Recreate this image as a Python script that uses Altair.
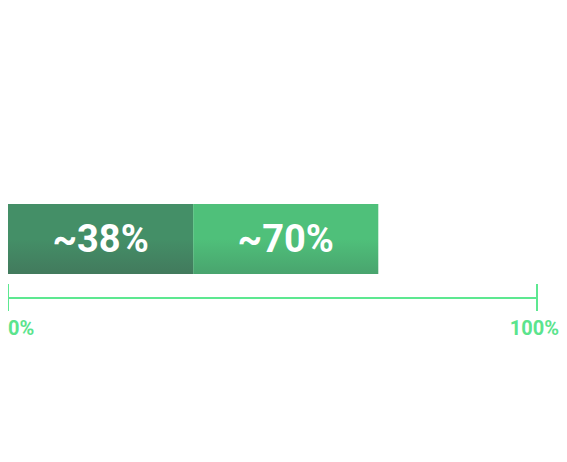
import altair as alt
import pandas as pd

# Segment data
seg_labels = ["~38%", "~70%"]
seg_start = [0, 35]
seg_end = [35, 70]
seg_key = ["dark", "light"]

# Scale/axis data
tick_values = [0, 100]
tick_labels = ["0%", "100%"]

segs = pd.DataFrame({"label": seg_labels, "start": seg_start, "end": seg_end, "key": seg_key})
segs["mid"] = (segs["start"] + segs["end"]) / 2
ticks = pd.DataFrame({"v": tick_values, "lab": tick_labels})
axis_line = pd.DataFrame({"a": [tick_values[0]], "b": [tick_values[-1]]})

xs = alt.Scale(domain=[0, 100], nice=False, zero=False)

def grad(top, bottom):
    return alt.LinearGradient(
        gradient="linear", x1=0, y1=0, x2=0, y2=1,
        stops=[alt.GradientStop(offset=0, color=top),
               alt.GradientStop(offset=0.5, color=top),
               alt.GradientStop(offset=1, color=bottom)])

base = alt.Chart(segs)

dark = base.transform_filter(alt.datum.key == "dark").mark_bar(
    color=grad("#448f67", "#427a5d"), cornerRadius=0
).encode(
    x=alt.X("start:Q", scale=xs, axis=None),
    x2="end:Q",
    y=alt.value(196), y2=alt.value(266),
)
light = base.transform_filter(alt.datum.key == "light").mark_bar(
    color=grad("#4fc07a", "#49a46e"), cornerRadius=0
).encode(
    x=alt.X("start:Q", scale=xs, axis=None),
    x2="end:Q",
    y=alt.value(196), y2=alt.value(266),
)
seg_text = base.mark_text(
    color="white", font="Roboto", fontWeight="bold", fontSize=38,
    baseline="middle", align="center"
).encode(
    x=alt.X("mid:Q", scale=xs, axis=None),
    y=alt.value(233),
    text="label:N",
)

green = "#5de891"
hline = alt.Chart(axis_line).mark_rule(color=green, strokeWidth=2).encode(
    x=alt.X("a:Q", scale=xs, axis=None), x2="b:Q", y=alt.value(290)
)
vticks = alt.Chart(ticks).mark_rule(color=green, strokeWidth=2).encode(
    x=alt.X("v:Q", scale=xs, axis=None), y=alt.value(276), y2=alt.value(303)
)
lab0 = alt.Chart(ticks).transform_filter(alt.datum.v == 0).mark_text(
    color="#5be48d", font="Roboto", fontWeight="bold", fontSize=20,
    align="left", baseline="top"
).encode(x=alt.X("v:Q", scale=xs, axis=None), y=alt.value(311), text="lab:N")
lab100 = alt.Chart(ticks).transform_filter(alt.datum.v == 100).mark_text(
    color="#5be48d", font="Roboto", fontWeight="bold", fontSize=20,
    align="right", baseline="top", dx=22
).encode(x=alt.X("v:Q", scale=xs, axis=None), y=alt.value(311), text="lab:N")

chart = alt.layer(dark, light, seg_text, hline, vticks, lab0, lab100).properties(
    width=529, height=420,
    padding={"left": 0, "top": 0, "right": 22, "bottom": 0},
    autosize=alt.AutoSizeParams(type="none"),
).configure_view(strokeWidth=0, stroke=None)

chart.save("out.html", embed_options={"renderer": "svg", "actions": False})
